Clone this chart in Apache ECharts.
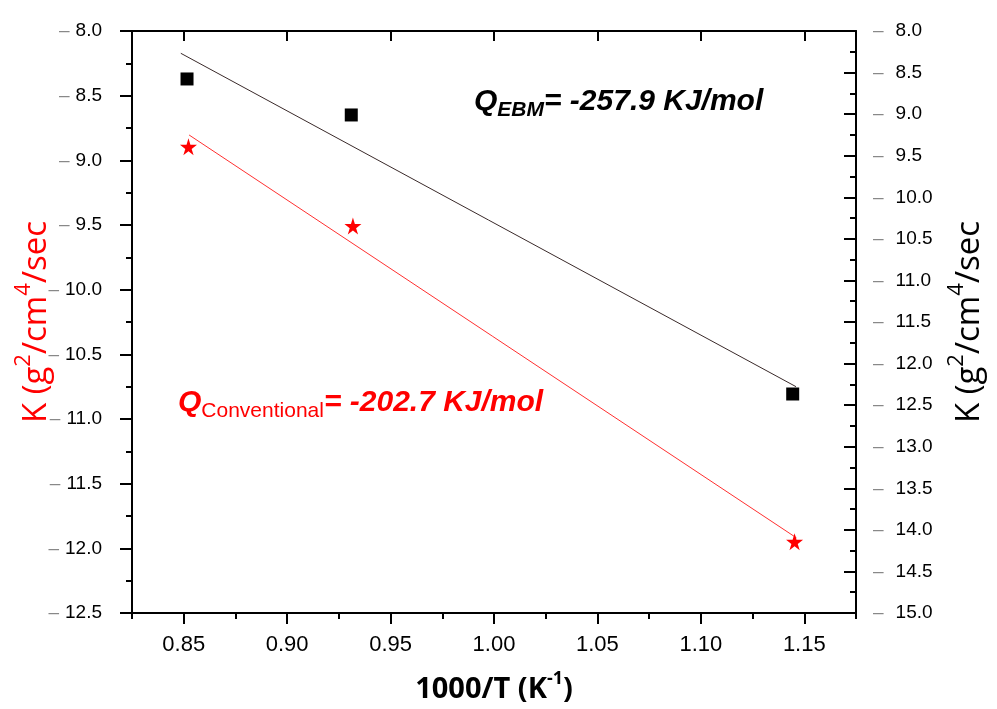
<!DOCTYPE html>
<html>
<head>
<meta charset="utf-8">
<script src="https://cdn.jsdelivr.net/npm/echarts@6/dist/echarts.min.js"></script>
<style>
  html, body { margin: 0; padding: 0; background: #fff; }
  #chart { width: 997px; height: 709px; }
</style>
</head>
<body>
<div id="chart"></div>
<script>
// measured points (1000/T, K)
const xConv = [0.8523, 0.9318, 1.1453];
const kConv = [-8.895, -9.508, -11.949];
const xEbm = [0.8516, 0.9310, 1.1444];
const kEbm = [8.577, 9.010, 12.366];
// fitted line ends as drawn
const xConvFit = [0.8526, 1.1462];
const kConvFit = [-8.804, -11.919];
const xEbmFit = [0.8486, 1.1460];
const kEbmFit = [8.268, 12.278];
// tick values
const xMajor = [0.85, 0.90, 0.95, 1.00, 1.05, 1.10, 1.15];
const xMinor = [0.825, 0.875, 0.925, 0.975, 1.025, 1.075, 1.125, 1.175];

const zip = (a, b) => a.map((v, i) => [v, b[i]]);
const star = 'path://M50,0 L61,35 L98,35 L68,57 L79,91 L50,70 L21,91 L32,57 L2,35 L39,35 Z';
const tickFont = 'Liberation Sans, Arial, sans-serif';
const titleFont = 'Open Sans, sans-serif';

const yLabel = (pad) => ({
  fontFamily: tickFont,
  fontSize: 19,
  color: '#000',
  formatter: (v) => '{d|–}{n|' + Math.abs(v).toFixed(1) + '}',
  rich: {
    d: { color: '#888', fontSize: 19, fontFamily: tickFont, padding: [0, pad, 0, 0] },
    n: { color: '#000', fontSize: 19, fontFamily: tickFont }
  }
});

const kName = (color) => ({
  color,
  fontFamily: titleFont,
  rich: {
    a: { color, fontFamily: titleFont, fontSize: 33, lineHeight: 40, verticalAlign: 'bottom' },
    s: { color, fontFamily: titleFont, fontSize: 22, lineHeight: 22, verticalAlign: 'top' }
  }
});

const qText = (color, subStyle) => ({
  q: { fill: color, fontFamily: tickFont, fontSize: 30, fontWeight: 'bold', fontStyle: 'italic', lineHeight: 34, verticalAlign: 'top' },
  s: Object.assign({ fill: color, fontFamily: tickFont, lineHeight: 34, verticalAlign: 'bottom' }, subStyle),
  t: { fill: color, fontFamily: tickFont, fontSize: 30, fontWeight: 'bold', fontStyle: 'italic', lineHeight: 34, verticalAlign: 'top' }
});

const chart = echarts.init(document.getElementById('chart'));
chart.setOption({
  backgroundColor: '#fff',
  animation: false,
  grid: { left: 132, right: 141, top: 31, bottom: 96, containLabel: false, outerBoundsMode: 'none' },
  xAxis: [{
    type: 'value', position: 'bottom', min: 0.825, max: 1.175,
    splitLine: { show: false },
    axisLine: { lineStyle: { color: '#000', width: 2 } },
    axisTick: { customValues: xMajor, length: 11, lineStyle: { color: '#000', width: 2 } },
    axisLabel: {
      customValues: xMajor, margin: 21, fontFamily: tickFont, fontSize: 22, color: '#000',
      formatter: (v) => v.toFixed(2)
    },
    name: '{a|1000/T (K}{s|-1}{a|)}',
    nameLocation: 'middle', nameGap: 57, nameMoveOverlap: false,
    nameTextStyle: {
      fontFamily: titleFont, fontWeight: 'bold',
      rich: {
        a: { fontFamily: titleFont, fontWeight: 'bold', fontSize: 29, lineHeight: 34, verticalAlign: 'bottom', color: '#000' },
        s: { fontFamily: titleFont, fontWeight: 'bold', fontSize: 18, lineHeight: 18, verticalAlign: 'top', color: '#000' }
      }
    }
  }, {
    type: 'value', position: 'bottom', min: 0.825, max: 1.175,
    splitLine: { show: false },
    axisLine: { show: false },
    axisTick: { customValues: xMinor, length: 6, lineStyle: { color: '#000', width: 2 } },
    axisLabel: { show: false }
  }, {
    type: 'value', position: 'top', min: 0.825, max: 1.175,
    splitLine: { show: false },
    axisLine: { lineStyle: { color: '#000', width: 2 } },
    axisTick: { customValues: xMajor, inside: true, length: 10, lineStyle: { color: '#000', width: 2 } },
    axisLabel: { show: false }
  }],
  yAxis: [{
    type: 'value', position: 'left', min: -12.5, max: -8, interval: 0.5,
    splitLine: { show: false },
    axisLine: { show: true, lineStyle: { color: '#000', width: 2 } },
    axisTick: { show: true, length: 12, lineStyle: { color: '#000', width: 2 } },
    minorTick: { show: true, splitNumber: 2, length: 6, lineStyle: { color: '#000', width: 2 } },
    axisLabel: Object.assign({ margin: 30 }, yLabel(6)),
    name: '{a|K (g}{s|2}{a|/cm}{s|4}{a|/sec}',
    nameLocation: 'middle', nameRotate: 90, nameGap: 79, nameMoveOverlap: false,
    nameTextStyle: kName('#ff0000')
  }, {
    type: 'value', position: 'right', min: 8, max: 15, interval: 0.5, inverse: true,
    splitLine: { show: false },
    axisLine: { show: true, lineStyle: { color: '#000', width: 2 } },
    axisTick: { show: true, inside: true, length: 12, lineStyle: { color: '#000', width: 2 } },
    minorTick: { show: true, splitNumber: 2, length: 6, lineStyle: { color: '#000', width: 2 } },
    axisLabel: Object.assign({ margin: 17 }, yLabel(12)),
    name: '{a|K (g}{s|2}{a|/cm}{s|4}{a|/sec}',
    nameLocation: 'middle', nameRotate: 90, nameGap: 90, nameMoveOverlap: false,
    nameTextStyle: kName('#000')
  }],
  series: [{
    type: 'line', yAxisIndex: 1, data: zip(xEbmFit, kEbmFit),
    symbol: 'none', lineStyle: { color: '#3a2a2a', width: 1 }, z: 2
  }, {
    type: 'line', yAxisIndex: 0, data: zip(xConvFit, kConvFit),
    symbol: 'none', lineStyle: { color: '#ff3030', width: 1 }, z: 2
  }, {
    type: 'scatter', yAxisIndex: 1, data: zip(xEbm, kEbm),
    symbol: 'rect', symbolSize: 13, itemStyle: { color: '#000', opacity: 1 }, z: 3
  }, {
    type: 'scatter', yAxisIndex: 0, data: zip(xConv, kConv),
    symbol: star, symbolSize: 17, itemStyle: { color: '#ff0000', opacity: 1 }, z: 3
  }],
  graphic: [{
    type: 'text', left: 474, top: 87,
    style: {
      text: '{q|Q}{s|EBM}{t|= -257.9 KJ/mol}',
      rich: qText('#000', { fontSize: 21, fontWeight: 'bold', fontStyle: 'italic' })
    }
  }, {
    type: 'text', left: 178, top: 388,
    style: {
      text: '{q|Q}{s|Conventional}{t|= -202.7 KJ/mol}',
      rich: qText('#ff0000', { fontSize: 21 })
    }
  }]
});
</script>
</body>
</html>
